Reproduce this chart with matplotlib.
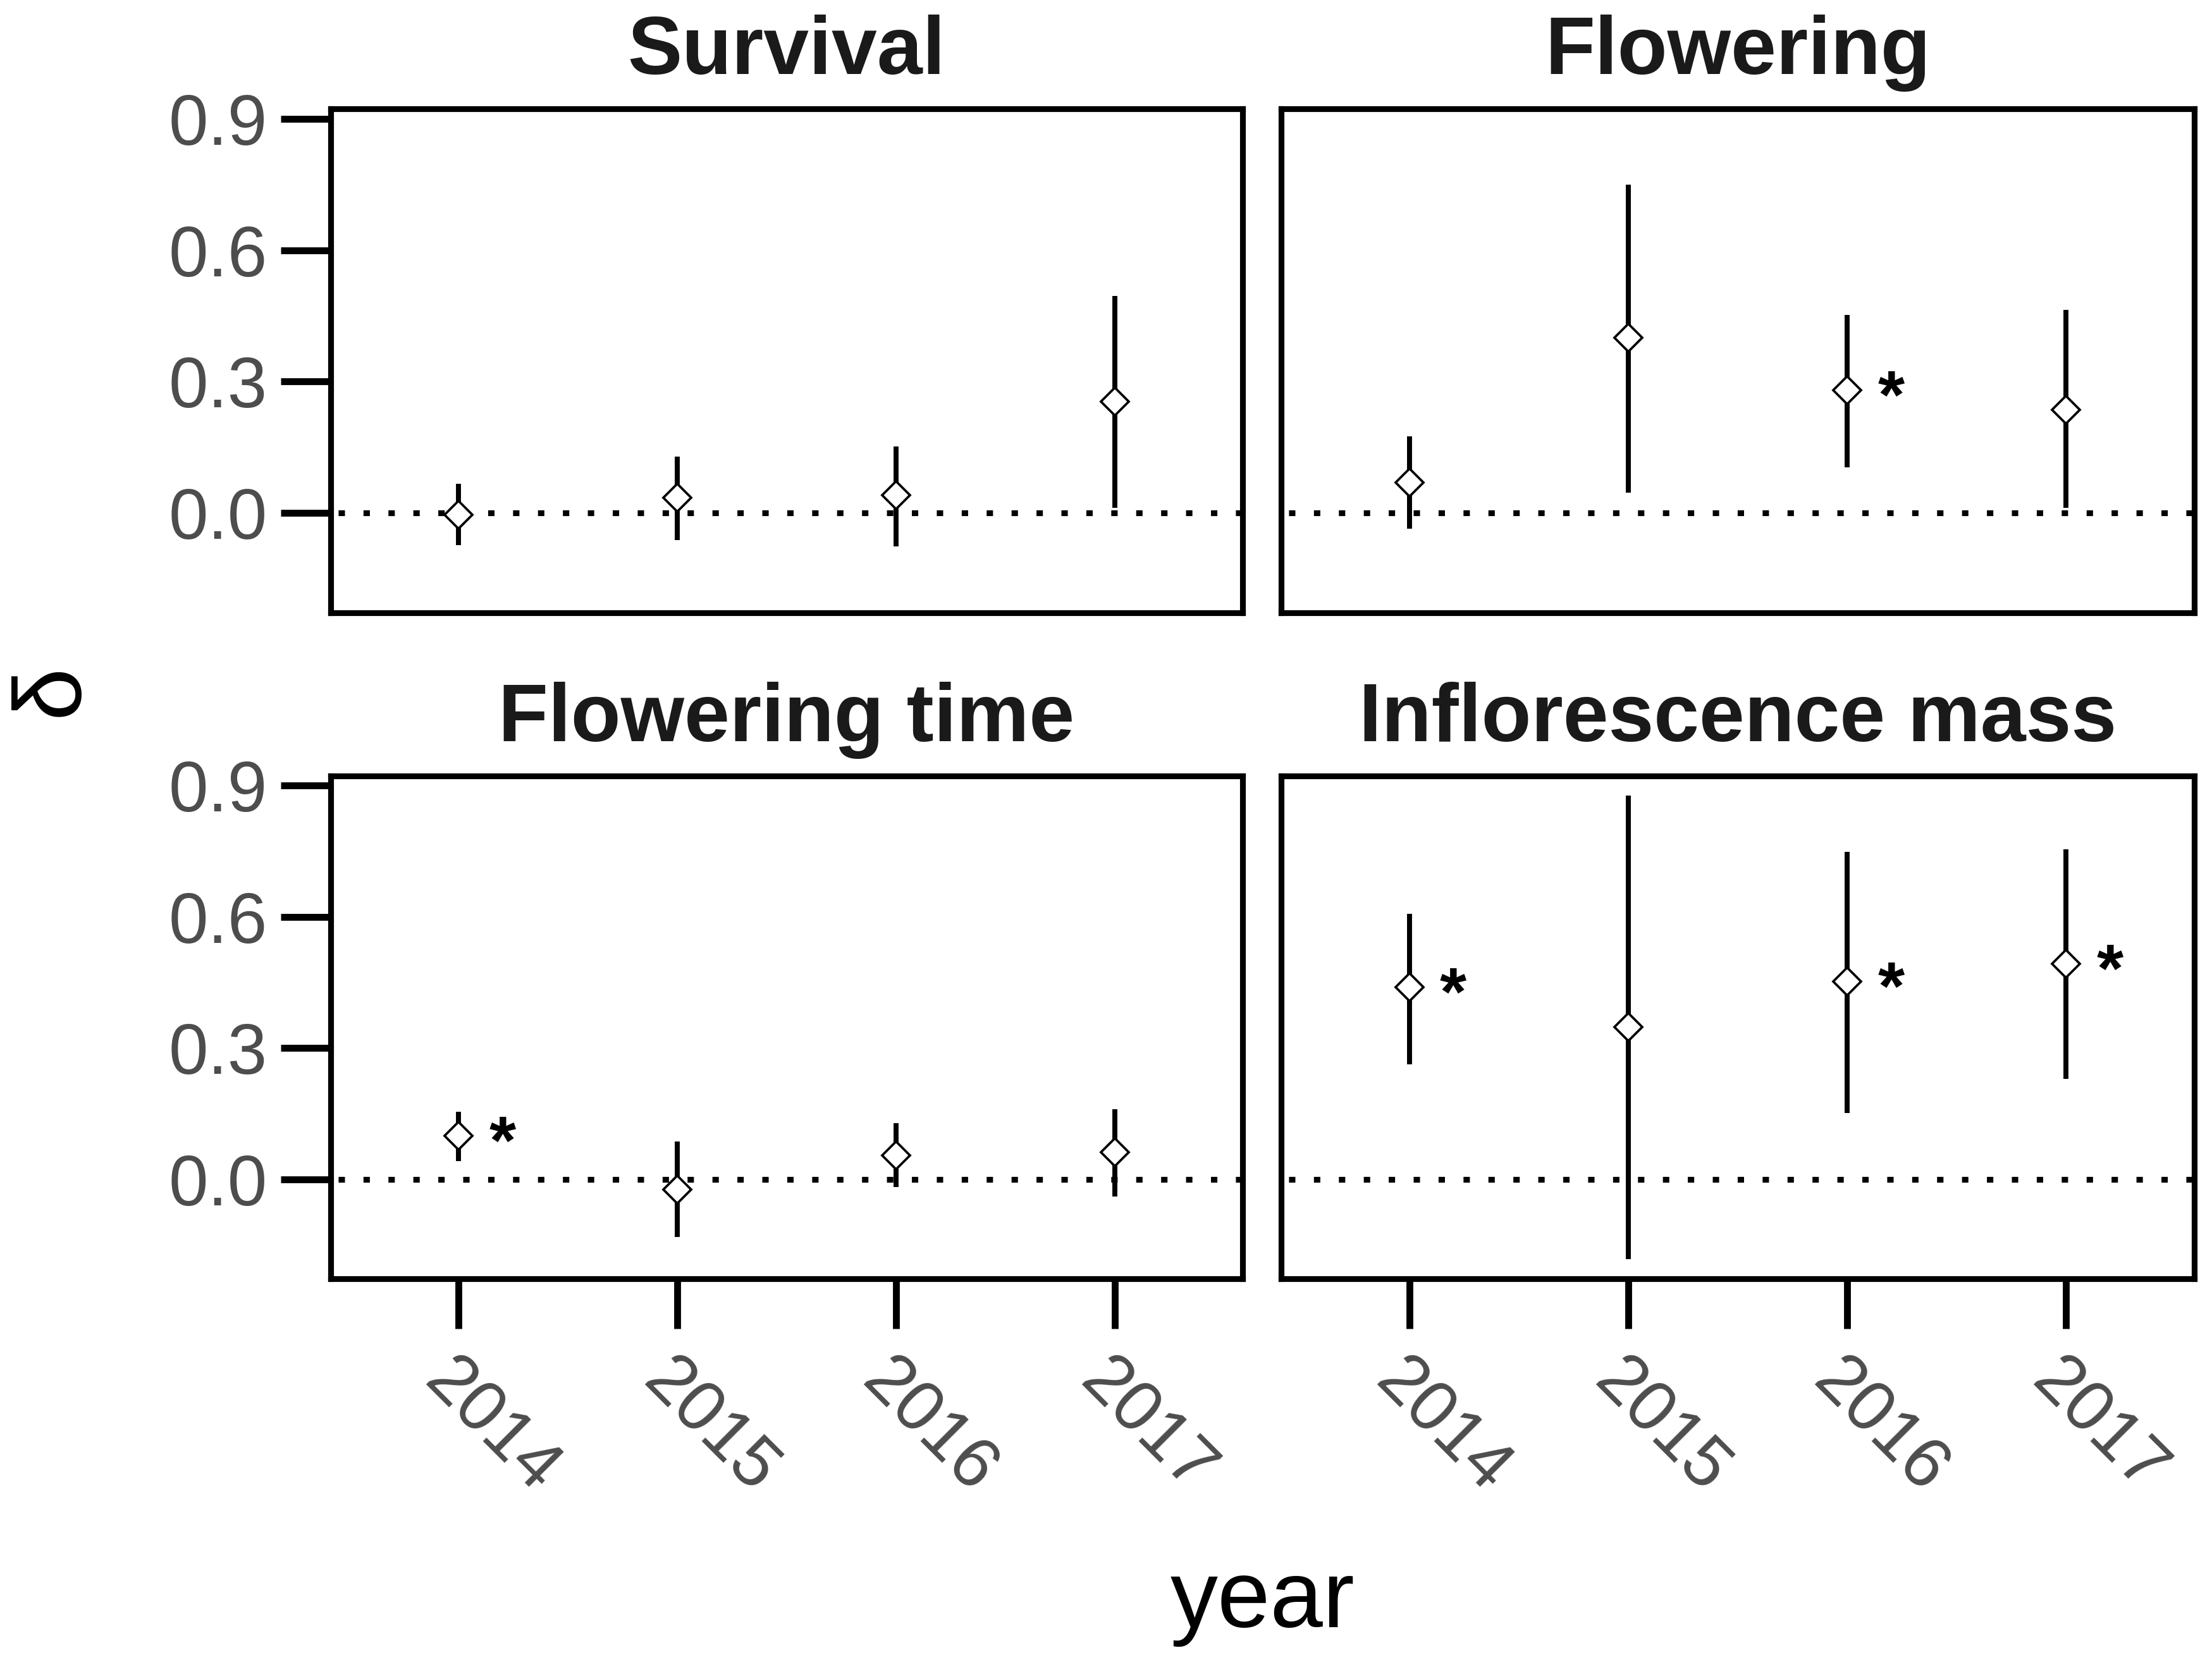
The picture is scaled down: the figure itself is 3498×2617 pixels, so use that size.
import matplotlib
matplotlib.use("Agg")
import matplotlib.pyplot as plt
import numpy as np

plt.rcParams['font.family'] = ['Liberation Sans', 'DejaVu Sans']

# ---- data ----
years = ['2014', '2015', '2016', '2017']
panel_titles = ['Survival', 'Flowering', 'Flowering time', 'Inflorescence mass']

survival_est = [-0.004, 0.035, 0.040, 0.254]
survival_lo = [-0.073, -0.062, -0.076, 0.012]
survival_hi = [0.066, 0.129, 0.152, 0.496]
survival_sig = [False, False, False, False]

flowering_est = [0.070, 0.400, 0.280, 0.236]
flowering_lo = [-0.036, 0.047, 0.104, 0.012]
flowering_hi = [0.175, 0.749, 0.452, 0.463]
flowering_sig = [False, False, True, False]

ftime_est = [0.099, -0.023, 0.055, 0.062]
ftime_lo = [0.042, -0.132, -0.018, -0.040]
ftime_hi = [0.154, 0.087, 0.128, 0.160]
ftime_sig = [True, False, False, False]

mass_est = [0.439, 0.348, 0.452, 0.493]
mass_lo = [0.263, -0.183, 0.152, 0.230]
mass_hi = [0.607, 0.877, 0.749, 0.754]
mass_sig = [True, False, True, True]

yticks = [0.0, 0.3, 0.6, 0.9]
ytick_labels = ['0.0', '0.3', '0.6', '0.9']

panels = [
    (survival_est, survival_lo, survival_hi, survival_sig),
    (flowering_est, flowering_lo, flowering_hi, flowering_sig),
    (ftime_est, ftime_lo, ftime_hi, ftime_sig),
    (mass_est, mass_lo, mass_hi, mass_sig),
]

# ---- figure ----
fig = plt.figure(figsize=(3498 / 300, 2617 / 300), dpi=300)

lefts = [0.1495, 0.5792]
width_l = 0.5617 - 0.1495
width_r = 0.9920 - 0.5792
bottoms = [0.6297, 0.2272]
heights = [0.9341 - 0.6297, 0.5311 - 0.2272]

axes = []
for r in range(2):
    for c in range(2):
        w = width_l if c == 0 else width_r
        ax = fig.add_axes([lefts[c], bottoms[r], w, heights[r]])
        axes.append(ax)

x = np.arange(1, len(years) + 1)
tick_grey = '#4D4D4D'

for i, (ax, title, (est, lo, hi, sig)) in enumerate(zip(axes, panel_titles, panels)):
    row, col = divmod(i, 2)
    ax.axhline(0, color='black', lw=2.2, linestyle=(3.0, (1.1, 3.2)), zorder=1)
    ax.vlines(x, lo, hi, color='black', lw=1.9, zorder=2)
    ax.plot(x, est, linestyle='none', marker='D', ms=7.6, mfc='white',
            mec='black', mew=0.9, zorder=3)
    for xi, yi, s in zip(x, est, sig):
        if s:
            ax.annotate('*', xy=(xi + 0.2, yi + 0.03), xycoords='data',
                        xytext=(0, -15.5), textcoords='offset points',
                        ha='center', va='baseline', fontsize=26,
                        fontweight='bold', color='black', zorder=4)
    ax.set_xlim(0.415, 4.585)
    ax.set_ylim(-0.228, 0.922)
    for sp in ax.spines.values():
        sp.set_linewidth(2.2)
        sp.set_color('black')
    ax.set_xticks(x)
    ax.set_yticks(yticks)
    ax.tick_params(axis='both', length=19, width=2.6, color='black',
                   labelsize=27, labelcolor=tick_grey, pad=5)
    if col == 0:
        ax.set_yticklabels(ytick_labels)
    else:
        ax.tick_params(axis='y', left=False, labelleft=False)
    if row == 1:
        ax.set_xticklabels(years)
        ax.tick_params(axis='x', pad=7)
        for lab in ax.get_xticklabels():
            lab.set_rotation(-45)
            lab.set_ha('left')
            lab.set_va('top')
            lab.set_rotation_mode('anchor')
    else:
        ax.tick_params(axis='x', bottom=False, labelbottom=False)
    ax.annotate(title, xy=(0.5, 1.0), xycoords='axes fraction',
                xytext=(0, 13.2), textcoords='offset points',
                ha='center', va='baseline', fontsize=31,
                fontweight='bold', color='#1A1A1A')

fig.text(0.5708, 0.0168, 'year', ha='center', va='baseline', fontsize=36,
         color='black')
fig.text(0.0237, 0.583, 'δ', ha='center', va='center', rotation=90,
         fontsize=36, color='black')

fig.savefig('out.png', dpi=300, facecolor='white')
